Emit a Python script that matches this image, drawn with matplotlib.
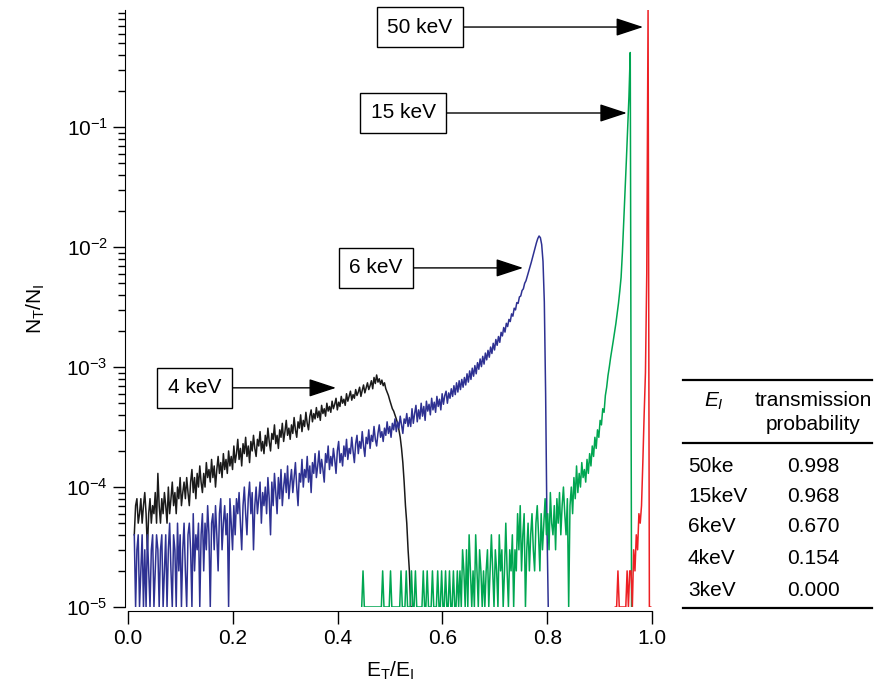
import numpy as np
import matplotlib
matplotlib.use("Agg")
import matplotlib.pyplot as plt
from matplotlib.lines import Line2D

plt.rcParams['font.family'] = ['Liberation Sans', 'DejaVu Sans']
plt.rcParams['mathtext.fontset'] = 'custom'
plt.rcParams['mathtext.rm'] = 'Liberation Sans'
plt.rcParams['mathtext.it'] = 'Liberation Sans:italic'
plt.rcParams['font.size'] = 15

# counts per bin, in units of 1e-5 (1 = bottom of axis)
black_x0, black_dx = 0.012, 0.0025
black_counts = [4, 7, 8, 5, 6, 8, 5, 7, 9, 6,
                3, 6, 8, 5, 7, 6, 9, 5, 13, 7,
                5, 8, 6, 9, 7, 5, 10, 6, 8, 11,
                7, 9, 6, 10, 8, 12, 7, 9, 11, 8,
                12, 9, 7, 11, 14, 9, 12, 8, 13, 10,
                15, 11, 9, 13, 10, 16, 12, 14, 11, 17,
                12, 15, 10, 14, 18, 13, 16, 12, 19, 14,
                17, 13, 20, 15, 18, 14, 22, 16, 19, 25,
                17, 21, 15, 23, 19, 26, 18, 22, 16, 24,
                20, 27, 21, 18, 25, 22, 29, 20, 24, 19,
                27, 22, 31, 24, 20, 28, 25, 33, 23, 27,
                21, 30, 26, 34, 24, 29, 36, 27, 31, 25,
                33, 28, 38, 30, 26, 35, 31, 40, 29, 36,
                32, 42, 34, 30, 39, 44, 35, 41, 37, 46,
                38, 43, 36, 48, 41, 45, 39, 50, 43, 47,
                42, 52, 45, 49, 55, 44, 51, 47, 57, 50,
                54, 48, 60, 52, 57, 63, 53, 59, 55, 65,
                58, 62, 68, 57, 64, 71, 61, 67, 74, 65,
                70, 77, 66, 82, 73, 86, 75, 80, 72, 78,
                70, 74, 66, 62, 58, 53, 49, 45, 43, 40,
                37, 34, 30, 26, 21, 16, 11, 7, 5, 3,
                2, 1, 1]

blue_x0, blue_dx = 0.012, 0.0025
blue_counts = [4, 1, 3, 4, 1, 2, 4, 1, 3, 1,
               4, 2, 1, 3, 4, 1, 2, 4, 3, 1,
               3, 4, 1, 2, 4, 1, 3, 5, 2, 1,
               4, 3, 1, 5, 2, 4, 1, 3, 5, 2,
               1, 4, 5, 3, 1, 6, 2, 4, 3, 5,
               1, 4, 6, 2, 5, 3, 7, 4, 1, 5,
               6, 3, 7, 4, 2, 6, 8, 3, 5, 7,
               4, 6, 1, 8, 5, 3, 7, 4, 8, 6,
               9, 5, 3, 7, 10, 6, 4, 8, 11, 6,
               9, 3, 7, 10, 6, 8, 11, 5, 9, 7,
               10, 6, 12, 8, 4, 11, 7, 13, 9, 6,
               12, 8, 14, 7, 10, 13, 9, 15, 8, 11,
               14, 9, 12, 16, 10, 7, 13, 11, 17, 10,
               14, 12, 18, 11, 15, 9, 16, 13, 19, 12,
               15, 20, 13, 17, 14, 11, 19, 16, 22, 14,
               18, 15, 21, 17, 13, 20, 24, 16, 19, 15,
               22, 18, 25, 17, 21, 19, 26, 20, 16, 23,
               27, 19, 24, 21, 29, 22, 18, 26, 23, 30,
               21, 27, 24, 32, 25, 22, 28, 33, 26, 29,
               24, 31, 27, 35, 28, 32, 26, 34, 30, 37,
               29, 35, 31, 39, 33, 28, 37, 34, 41, 32,
               38, 32, 45, 34, 41, 48, 35, 44, 37, 50,
               39, 47, 36, 52, 43, 49, 40, 55, 44, 51,
               42, 57, 47, 54, 44, 60, 49, 58, 63, 50,
               61, 55, 66, 57, 70, 59, 74, 62, 77, 65,
               79, 68, 82, 71, 88, 75, 93, 79, 98, 84,
               103, 88, 109, 96, 117, 101, 123, 106, 131, 115,
               138, 121, 147, 130, 158, 139, 170, 152, 180, 161,
               195, 182, 214, 196, 232, 218, 250, 240, 278, 266,
               310, 300, 345, 340, 385, 392, 435, 450, 500, 525,
               575, 625, 680, 745, 820, 900, 990, 1090, 1180, 1240,
               1200, 1050, 760, 350, 60, 5, 1]

green_x0, green_dx = 0.446, 0.0025
green_counts = [1, 2, 1, 1, 1, 1, 1, 1, 1, 1,
                1, 1, 1, 1, 1, 1, 2, 1, 1, 1,
                1, 1, 2, 1, 1, 1, 1, 1, 1, 1,
                2, 1, 1, 1, 2, 1, 1, 1, 2, 1,
                1, 2, 1, 1, 1, 1, 1, 2, 1, 1,
                2, 1, 1, 1, 2, 1, 1, 1, 2, 1,
                1, 2, 1, 1, 2, 1, 1, 2, 1, 1,
                2, 1, 1, 2, 1, 2, 1, 3, 2, 1,
                3, 1, 4, 2, 1, 2, 1, 4, 2, 1,
                3, 2, 1, 2, 1, 2, 3, 1, 2, 4,
                2, 1, 3, 2, 1, 4, 2, 3, 1, 2,
                5, 2, 1, 3, 2, 4, 1, 3, 2, 6,
                3, 7, 2, 4, 6, 1, 3, 5, 2, 4,
                6, 3, 2, 5, 7, 4, 2, 6, 3, 5,
                8, 4, 6, 3, 9, 5, 4, 7, 3, 8,
                5, 9, 4, 7, 10, 6, 4, 8, 1, 7,
                10, 6, 12, 8, 15, 9, 13, 10, 16, 12,
                14, 11, 17, 13, 19, 15, 22, 18, 26, 21,
                30, 26, 36, 33, 45, 42, 58, 68, 85, 100,
                120, 140, 165, 195, 230, 280, 340, 430, 560, 900,
                1600, 2800, 5200, 9500, 18000, 42000, 1]

red_x0, red_dx = 0.930, 0.0025
red_counts = [1, 1, 2, 1, 1, 1, 1, 1, 1, 2, 1, 2, 2, 1, 3, 2, 4, 3, 6, 5,
              7, 16, 40, 90, 600, 97000, 1, 1]

series = [(black_x0, black_dx, black_counts, '#1a1a1a'),
          (blue_x0, blue_dx, blue_counts, '#2e3192'),
          (green_x0, green_dx, green_counts, '#00a651'),
          (red_x0, red_dx, red_counts, '#ed2024')]

labels = ['50 keV', '15 keV', '6 keV', '4 keV']
label_xy = [(0.557, 0.685), (0.525, 0.1315), (0.473, 6.72e-3), (0.127, 6.72e-4)]
tip_xy = [(0.983, 0.685), (0.952, 0.1315), (0.754, 6.72e-3), (0.397, 6.72e-4)]

tab_energy = ['50ke', '15keV', '6keV', '4keV', '3keV']
tab_prob = ['0.998', '0.968', '0.670', '0.154', '0.000']

W, H = 875, 691
fig = plt.figure(figsize=(W / 100, H / 100), dpi=100)
ax = fig.add_axes([128 / W, (H - 607) / H, 524 / W, 597 / H])

for x0, dx, cnt, col in series:
    cnt = np.array(cnt, dtype=float)
    x = x0 + dx * np.arange(len(cnt))
    ax.plot(x, cnt * 1e-5, color=col, lw=1.1)

ax.set_yscale('log')
ax.set_xlim(0, 1.0)
ax.set_ylim(1e-5, 0.95)
ax.set_xticks([0, 0.2, 0.4, 0.6, 0.8, 1.0])
ax.spines['top'].set_visible(False)
ax.spines['right'].set_visible(False)
ax.spines['left'].set_position(('outward', 2))
ax.spines['bottom'].set_position(('outward', 3))
ax.tick_params(axis='both', which='major', direction='out', length=9, width=1)
ax.tick_params(axis='y', which='minor', direction='out', length=5, width=1)
ax.tick_params(axis='both', labelsize=15)

ax.set_xlabel(r'$\mathregular{E_T/E_I}$', fontsize=15, labelpad=9)
ax.set_ylabel(r'$\mathregular{N_T/N_I}$', fontsize=15, labelpad=14)

for lab, txy, pxy in zip(labels, label_xy, tip_xy):
    ax.annotate(lab, xy=pxy, xytext=txy, ha='center', va='center', fontsize=15,
                bbox=dict(boxstyle='square,pad=0.5', fc='white', ec='black', lw=1),
                arrowprops=dict(arrowstyle='-|>,head_length=0.85,head_width=0.28',
                                mutation_scale=20, color='black', lw=1,
                                shrinkA=0, shrinkB=0))


def fx(px):
    return px / W


def fy(py):
    return 1 - py / H


for py in [380, 443, 608]:
    fig.add_artist(Line2D([fx(683), fx(872)], [fy(py), fy(py)], color='black', lw=1.6))

fig.text(fx(714), fy(401), r'$E_I$', ha='center', va='center', fontsize=15)
fig.text(fx(813), fy(400), 'transmission', ha='center', va='center', fontsize=15)
fig.text(fx(813), fy(425), 'probability', ha='center', va='center', fontsize=15)
row_y = [466, 496, 527, 558, 590]
for e, p, py in zip(tab_energy, tab_prob, row_y):
    fig.text(fx(688), fy(py), e, ha='left', va='center', fontsize=15)
    fig.text(fx(813), fy(py), p, ha='center', va='center', fontsize=15)

fig.savefig('out.png', dpi=100)
